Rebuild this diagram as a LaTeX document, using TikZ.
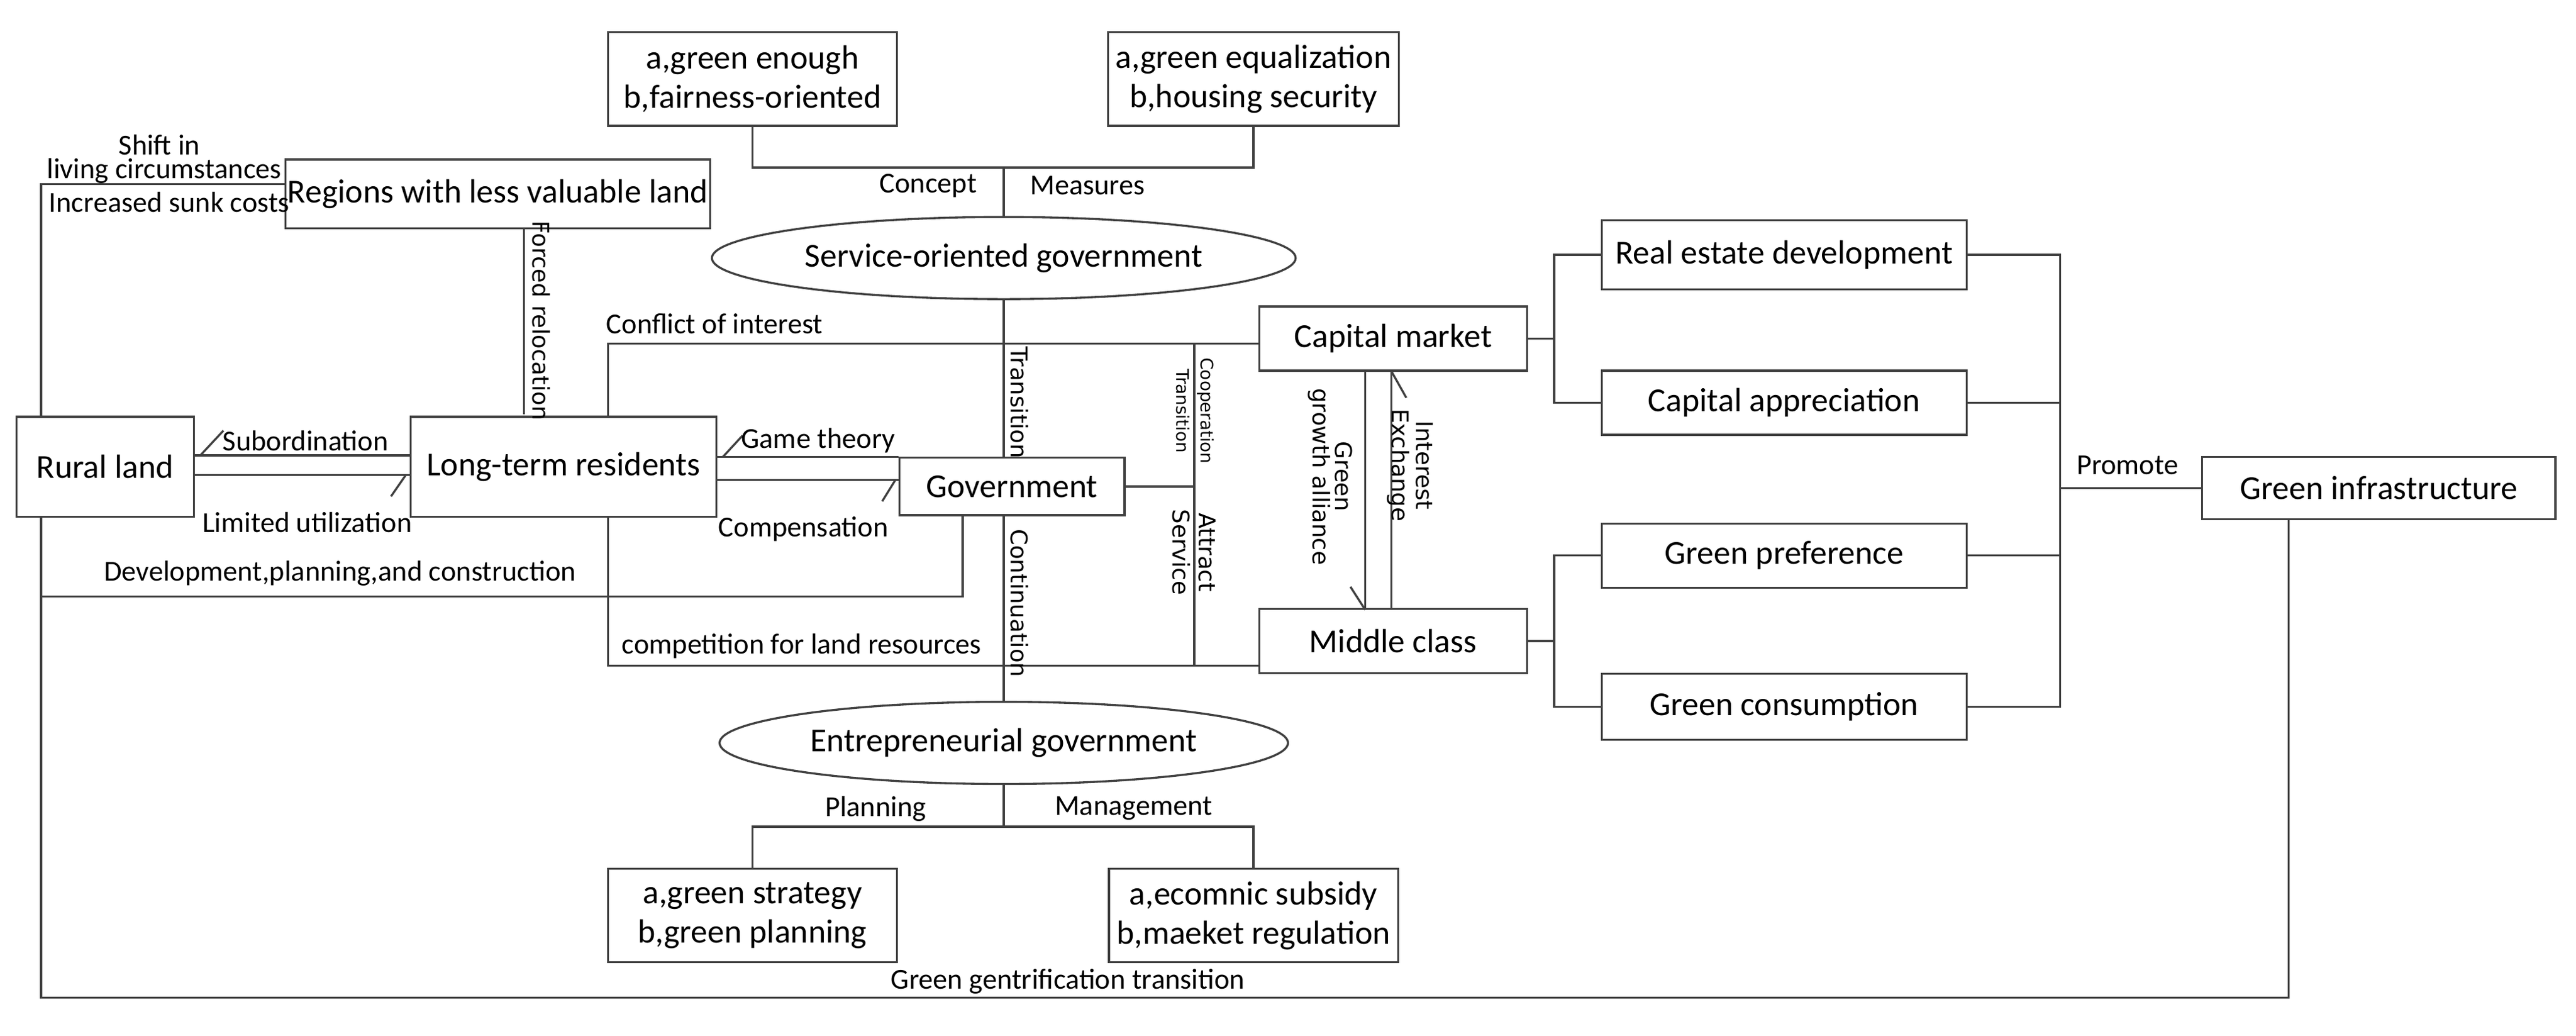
\documentclass[tikz,border=0pt]{standalone}
\usepackage{fontspec}
\setmainfont{Carlito}
\newfontfamily\vfont{DejaVu Sans}
\usetikzlibrary{shapes.geometric}
\begin{document}
\begin{tikzpicture}[x=0.025cm,y=-0.025cm,line width=0.9pt,draw=black!75,
  box/.style={draw=black!75,minimum width=#1*0.025cm,minimum height=1cm,inner sep=1pt,font=\fontsize{14.5}{16}\selectfont},
  box/.default=186,
  twoline/.style={draw=black!75,align=center,minimum width=176*0.025cm,minimum height=57*0.025cm,font=\fontsize{14.5}{17}\selectfont},
  oval/.style={draw=black!75,ellipse,minimum width=305*0.025cm,minimum height=50*0.025cm,font=\fontsize{14.5}{16}\selectfont},
  lab/.style={font=\fontsize{12.5}{14}\selectfont,inner sep=1pt},
  vlab/.style={font=\vfont\fontsize{10}{12}\selectfont,rotate=-90,inner sep=1pt},
  svlab/.style={font=\vfont\fontsize{7.5}{9}\selectfont,rotate=-90,inner sep=1pt}]
\useasboundingbox (0,0) rectangle (1568,630);

% Boxes
\node[twoline] (enough) at (458,48) {a,green enough\\b,fairness-oriented};
\node[twoline] (equal) at (763,48) {a,green equalization\\b,housing security};
\node[oval] (service) at (611,157) {Service-oriented government};
\node[box=256,minimum height=42*0.025cm] (regions) at (303,118) {Regions with less valuable land};
\node[box=108,minimum height=61*0.025cm] (rural) at (64,284) {Rural land};
\node[box=186,minimum height=61*0.025cm] (resid) at (343,284) {Long-term residents};
\node[box=137,minimum height=35*0.025cm] (gov) at (616,296) {Government};
\node[box=163,minimum height=39*0.025cm] (capital) at (848,206) {Capital market};
\node[box=163,minimum height=39*0.025cm] (middle) at (848,390) {Middle class};
\node[box=222,minimum height=42*0.025cm] (estate) at (1086,155) {Real estate development};
\node[box=222,minimum height=39*0.025cm] (apprec) at (1086,245) {Capital appreciation};
\node[box=222,minimum height=39*0.025cm] (prefer) at (1086,338) {Green preference};
\node[box=222,minimum height=40*0.025cm] (consum) at (1086,430) {Green consumption};
\node[box=215,minimum height=38*0.025cm] (infra) at (1448,297) {Green infrastructure};
\node[oval] (entre) at (611,452) {Entrepreneurial government};
\node[twoline] (strategy) at (458,557) {a,green strategy\\b,green planning};
\node[twoline] (subsidy) at (763,557) {a,ecomnic subsidy\\b,maeket regulation};

% Top bracket
\draw (enough.south) -- (458,102) -- (763,102) -- (equal.south);
\draw (611,102) -- (service.north);
\node[lab] (concept) at (565,113) {Concept};
\node[lab] (measures) at (662,113) {Measures};

% Bottom bracket
\draw (entre.south) -- (611,503);
\draw (strategy.north) -- (458,503) -- (763,503) -- (subsidy.north);
\node[lab] (planning) at (533,492) {Planning};
\node[lab] (manage) at (690,492) {Management};

% Left part
\draw (rural.north -| 25,0) -- (25,112) -- (regions.west |- 0,112);
\node[lab] (shift) at (97,88) {Shift in};
\node[lab] (living) at (100,104) {living circumstances};
\node[lab] (sunk) at (103,123) {Increased sunk costs};
\draw (319,139) -- (319,252);
\node[vlab,anchor=south] (forced) at (322,195) {Forced relocation};

\draw (rural.east |- 0,277) -- (resid.west |- 0,277);
\draw (rural.east |- 0,289) -- (resid.west |- 0,289);
\draw (122,277) -- (136,262);
\draw (247,289) -- (238,302);
\node[lab] (subord) at (186,268) {Subordination};
\node[lab] (limited) at (187,318) {Limited utilization};

\draw (resid.east |- 0,278) -- (gov.west |- 0,278);
\draw (resid.east |- 0,292) -- (gov.west |- 0,292);
\draw (440,278) -- (452,265);
\draw (545,292) -- (537,305);
\node[lab] (game) at (498,268) {Game theory};
\node[lab] (comp) at (489,322) {Compensation};

\draw (rural.south -| 25,0) -- (25,607) -- (1393,607) -- (infra.south -| 1393,0);
\node[lab] (gentri) at (650,597) {Green gentrification transition};
\draw (25,363) -- (586,363) -- (gov.south -| 586,0);
\node[lab] (develop) at (207,349) {Development,planning,and construction};

% Centre lines
\draw (resid.north -| 370,0) -- (370,209) -- (capital.west |- 0,209);
\node[lab] (conflict) at (435,197) {Conflict of interest};
\draw (resid.south -| 370,0) -- (370,405) -- (middle.west |- 0,405);
\node[lab] (compet) at (488,393) {competition for land resources};
\draw (service.south) -- (gov.north -| 611,0);
\draw (gov.south -| 611,0) -- (entre.north);
\node[vlab,anchor=south] (trans) at (613,245) {Transition};
\node[vlab,anchor=south] (contin) at (613,367) {Continuation};
\draw (727,209) -- (727,405);
\draw (gov.east) -- (727,296);
\node[svlab] (coop) at (734,250) {Cooperation};
\node[svlab] (trans2) at (720,250) {Transition};
\node[vlab] (attract) at (735,336) {Attract};
\node[vlab] (servlab) at (719,336) {Service};

% Capital market and middle class
\draw (capital.south -| 831,0) -- (middle.north -| 831,0);
\draw (capital.south -| 847,0) -- (middle.north -| 847,0);
\draw (831,371) -- (822,357);
\draw (847,226) -- (856,242);
\node[vlab] (green) at (818,290) {Green};
\node[vlab] (growth) at (803,290) {growth alliance};
\node[vlab] (inter) at (867,283) {Interest};
\node[vlab] (exch) at (851,283) {Exchange};

% Right brackets
\draw (capital.east) -- (946,206);
\draw (estate.west) -- (946,155) -- (946,245) -- (apprec.west);
\draw (middle.east) -- (946,390);
\draw (prefer.west) -- (946,338) -- (946,430) -- (consum.west);
\draw (estate.east) -- (1254,155) -- (1254,430) -- (consum.east);
\draw (apprec.east) -- (1254,245);
\draw (prefer.east) -- (1254,338);
\draw (1254,297) -- (infra.west);
\node[lab] (promote) at (1295,283) {Promote};
\end{tikzpicture}
\end{document}
